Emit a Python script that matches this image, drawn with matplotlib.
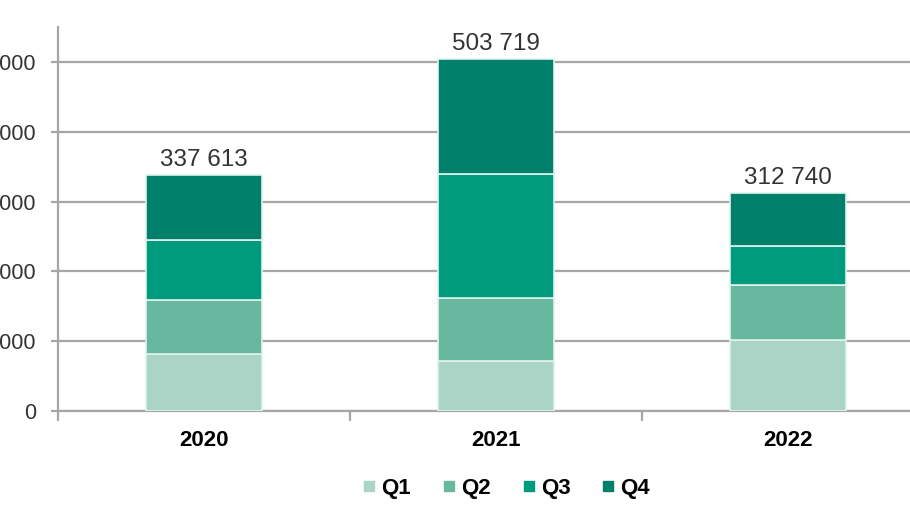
import matplotlib
matplotlib.use("Agg")
import matplotlib.pyplot as plt
from matplotlib.lines import Line2D

# data (quarterly amounts, stacked)
years = ["2020", "2021", "2022"]
quarters = ["Q1", "Q2", "Q3", "Q4"]
q1 = [82000, 72000, 102000]
q2 = [77500, 90000, 78000]
q3 = [86000, 178000, 57000]
q4 = [92113, 163719, 75740]
yticks = [0, 100000, 200000, 300000, 400000, 500000]
colors = ["#a9d4c6", "#68b8a0", "#009a7f", "#00806a"]

plt.rcParams['font.family'] = ['Liberation Sans', 'DejaVu Sans']

fig = plt.figure(figsize=(9.1, 5.21), dpi=100)
ax = fig.add_axes([58/910, 110/521, 3*292/910, 383.9/521])

x = list(range(len(years)))
bottom = [0, 0, 0]
for vals, c, name in zip([q1, q2, q3, q4], colors, quarters):
    ax.bar(x, vals, bottom=bottom, width=0.395, color=c,
           edgecolor="#dff3ec", linewidth=1.2, zorder=3, label=name)
    bottom = [b + v for b, v in zip(bottom, vals)]

# totals above bars
for xi, tot in zip(x, bottom):
    ax.annotate(f"{tot:,}".replace(",", " "), (xi, tot), xytext=(0, 3),
                textcoords="offset points", ha="center", va="bottom",
                fontsize=17.5, color="#333333")

ax.set_xlim(-0.5, 2.5)
ax.set_ylim(0, 550000)
ax.set_yticks(yticks)
ax.set_yticklabels([f"{v:,}".replace(",", " ") for v in yticks])
ax.yaxis.grid(True, color="#a6a6a6", linewidth=1.6, zorder=0)
ax.tick_params(axis="y", length=5, width=1.6, color="#a6a6a6", pad=11,
               labelsize=15.5, labelcolor="#333333")

ax.set_xticks(x)
ax.set_xticklabels(years, fontweight="bold", fontsize=16)
ax.set_xticks([-0.5, 0.5, 1.5, 2.5], minor=True)
ax.tick_params(axis="x", which="major", length=0, pad=14)
ax.tick_params(axis="x", which="minor", length=7, width=1.6, color="#a6a6a6")

for s in ["top", "right"]:
    ax.spines[s].set_visible(False)
for s in ["left", "bottom"]:
    ax.spines[s].set_color("#a6a6a6")
    ax.spines[s].set_linewidth(1.6)

handles = [Line2D([], [], marker="s", linestyle="none", markersize=6.5,
                  color=c) for c in colors]
fig.legend(handles, quarters, loc="center", bbox_to_anchor=(0.557, 0.063),
           ncol=4, frameon=False, handlelength=0.5, handletextpad=0.3,
           columnspacing=1.45, prop={"weight": "bold", "size": 16})

fig.savefig("out.png", dpi=100)
